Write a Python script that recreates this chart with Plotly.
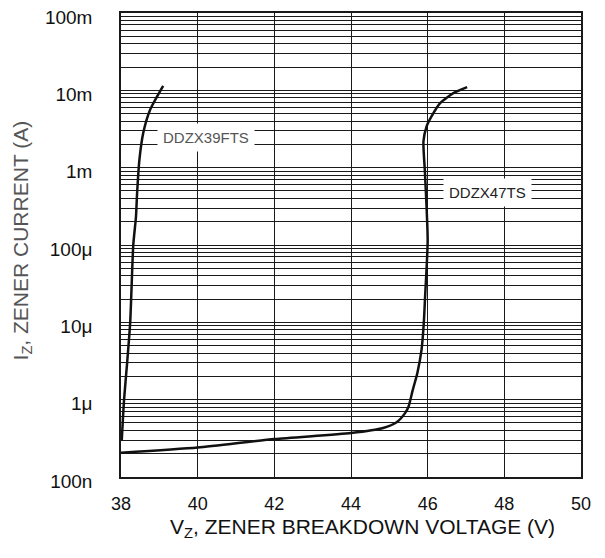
import plotly.graph_objects as go

# DDZX39FTS curve (V, A)
v39 = [38.02, 38.08, 38.16, 38.24, 38.32, 38.39, 38.42, 38.48, 38.58, 38.76, 39.10]
i39 = [3.0e-7, 1.0e-6, 3.0e-6, 1.0e-5, 1.0e-4, 2.3e-4, 4.7e-4, 1.26e-3, 2.8e-3, 5.6e-3, 11.4e-3]

# DDZX47TS curve (V, A)
v47 = [38.0, 40.0, 42.0, 44.0, 44.84, 45.19, 45.41, 45.50, 45.61, 45.73, 45.84, 45.90,
       45.93, 46.00, 45.93, 45.89, 45.97, 46.10, 46.32, 46.67, 47.03]
i47 = [2.06e-7, 2.4e-7, 3.1e-7, 3.7e-7, 4.3e-7, 5.1e-7, 6.7e-7, 8.1e-7, 1.33e-6, 2.2e-6,
       4.4e-6, 1.0e-5, 2.0e-5, 1.16e-4, 8.5e-4, 2.18e-3, 3.4e-3, 4.6e-3, 6.8e-3, 9.2e-3, 11e-3]

y_tickvals = [1e-7, 1e-6, 1e-5, 1e-4, 1e-3, 1e-2, 1e-1]
y_ticktext = ["100n", "1μ", "10μ", "100μ", "1m", "10m", "100m"]
x_tickvals = [38, 40, 42, 44, 46, 48, 50]

labels = [("DDZX39FTS", 40.22, -2.616, "#555555"), ("DDZX47TS", 47.55, -3.315, "#222222")]

x_title = "V<sub>Z</sub>, ZENER BREAKDOWN VOLTAGE (V)"
y_title = "I<sub>Z</sub>, ZENER CURRENT (A)"

FONT = "Liberation Sans, Arial, sans-serif"

fig = go.Figure()
fig.add_trace(go.Scatter(x=v39, y=i39, mode="lines", line=dict(color="#111111", width=2.5, shape="spline", smoothing=0.6),
                         showlegend=False, hoverinfo="skip"))
fig.add_trace(go.Scatter(x=v47, y=i47, mode="lines", line=dict(color="#111111", width=2.5, shape="spline", smoothing=0.6),
                         showlegend=False, hoverinfo="skip"))

for txt, x, y, col in labels:
    fig.add_annotation(x=x, y=y, xref="x", yref="y", text=txt, showarrow=False,
                       font=dict(family=FONT, size=15, color=col),
                       bgcolor="white", borderpad=5)

fig.add_annotation(x=0.524, y=-0.11, xref="paper", yref="paper", text=x_title, showarrow=False,
                   xanchor="center", yanchor="middle",
                   font=dict(family=FONT, size=21, color="#111111"))
fig.add_annotation(x=-0.215, y=0.51, xref="paper", yref="paper", text=y_title, showarrow=False,
                   xanchor="center", yanchor="middle", textangle=-90,
                   font=dict(family=FONT, size=21, color="#555555"))

fig.update_xaxes(range=[38, 50], tickvals=x_tickvals, ticks="", showgrid=True,
                 gridcolor="#1a1a1a", gridwidth=1, showline=True, linecolor="#1a1a1a",
                 linewidth=1.5, mirror=True, zeroline=False, automargin=False,
                 tickfont=dict(family=FONT, size=18, color="#111111"),
                 ticklabelstandoff=10, ticklabeloverflow="allow")
fig.update_yaxes(type="log", range=[-7, -1], tickvals=y_tickvals, ticktext=y_ticktext,
                 ticks="", showgrid=True, gridcolor="#1a1a1a", gridwidth=1,
                 minor=dict(showgrid=True, gridcolor="#1a1a1a", gridwidth=1, dtick="D1", ticks=""),
                 showline=True, linecolor="#1a1a1a", linewidth=1.5, mirror=True, zeroline=False,
                 automargin=False, ticklabeloverflow="allow", ticklabelshift=4,
                 tickfont=dict(family=FONT, size=19, color="#111111"),
                 ticklabelstandoff=23)

fig.update_layout(width=597, height=550, margin=dict(l=113, r=24, t=5, b=81),
                  plot_bgcolor="white", paper_bgcolor="white")

fig.write_html("out.html")
